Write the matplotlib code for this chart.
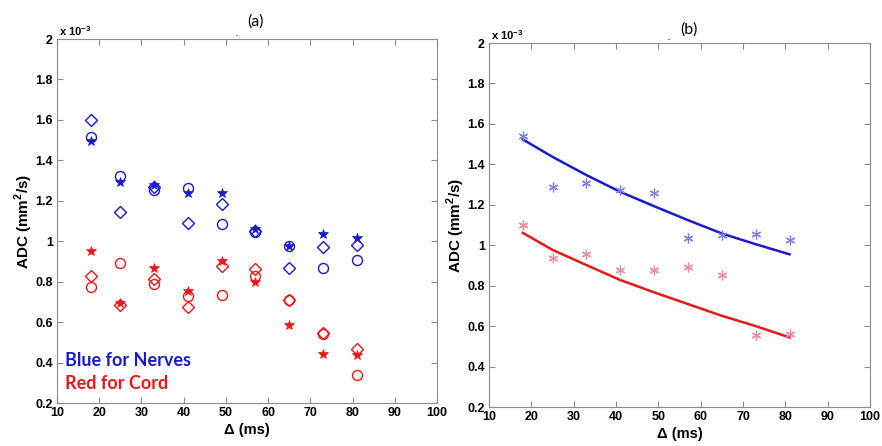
import matplotlib
matplotlib.use("Agg")
import matplotlib.pyplot as plt

delta = [18, 25, 33, 41, 49, 57, 65, 73, 81]

# Panel (a) values (x 10^-3 mm^2/s)
nerve_diamond = [1.60, 1.144, 1.267, 1.089, 1.186, 1.050, 0.870, 0.972, 0.979]
nerve_circle = [1.516, 1.323, 1.251, 1.262, 1.084, 1.045, 0.974, 0.870, 0.908]
nerve_star = [1.495, 1.295, 1.277, 1.238, 1.236, 1.061, 0.977, 1.036, 1.017]
cord_star = [0.950, 0.694, 0.868, 0.754, 0.901, 0.800, 0.587, 0.442, 0.439]
cord_diamond = [0.830, 0.684, 0.813, 0.676, 0.879, 0.863, 0.711, 0.546, 0.467]
cord_circle = [0.775, 0.892, 0.790, 0.727, 0.732, 0.826, 0.708, 0.543, 0.338]

# Panel (b) values
nerve_mean = [1.541, 1.290, 1.307, 1.271, 1.257, 1.035, 1.053, 1.056, 1.025]
cord_mean = [1.099, 0.935, 0.957, 0.876, 0.878, 0.894, 0.853, 0.557, 0.562]
nerve_fit = [1.523, 1.437, 1.347, 1.264, 1.193, 1.124, 1.058, 1.005, 0.955]
cord_fit = [1.061, 0.977, 0.902, 0.828, 0.767, 0.709, 0.651, 0.600, 0.544]

xticks = [10, 20, 30, 40, 50, 60, 70, 80, 90, 100]
xticklabels = ["10", "20", "30", "40", "50", "60", "70", "80", "90", "100"]
yticks = [0.2, 0.4, 0.6, 0.8, 1.0, 1.2, 1.4, 1.6, 1.8, 2.0]
yticklabels = ["0.2", "0.4", "0.6", "0.8", "1", "1.2", "1.4", "1.6", "1.8", "2"]

BLUE = "#1a1acc"
RED = "#e81818"
GRAY = "#8c8c8c"

plt.rcParams["font.family"] = ["Liberation Sans", "DejaVu Sans"]
plt.rcParams["mathtext.fontset"] = "custom"
plt.rcParams["mathtext.bf"] = "Liberation Sans:bold"
plt.rcParams["mathtext.rm"] = "Liberation Sans"

fig = plt.figure(figsize=(8.82, 4.46), dpi=100)
fig.patch.set_facecolor("white")

ax_a = fig.add_axes([57 / 882, 1 - 403 / 446, 380 / 882, 364 / 446])
ax_b = fig.add_axes([489 / 882, 1 - 407 / 446, 381 / 882, 364 / 446])


def style(ax):
    ax.set_xlim(10, 100)
    ax.set_ylim(0.2, 2.0)
    ax.set_xticks(xticks, labels=xticklabels, fontweight="bold", fontsize=9)
    ax.set_yticks(yticks, labels=yticklabels, fontweight="bold", fontsize=9)
    ax.tick_params(direction="in", length=4, width=0.8, color=GRAY,
                   top=True, right=True, pad=3)
    for s in ax.spines.values():
        s.set_color(GRAY)
        s.set_linewidth(0.8)
    ax.set_xlabel("\u0394 (ms)", fontsize=10.5, fontweight="bold", labelpad=3)
    ax.set_ylabel("ADC (mm$^{\\mathbf{2}}$/s)", fontsize=11, fontweight="bold",
                  labelpad=0)
    ax.text(0.005, 1.004, "x 10$^{\\mathbf{-3}}$", transform=ax.transAxes, fontsize=8,
            fontweight="bold", va="bottom", ha="left")


style(ax_a)
style(ax_b)

ax_a.plot(delta, nerve_diamond, linestyle="none", marker="D", ms=6.3, mfc="none",
          mec=BLUE, mew=1.0)
ax_a.plot(delta, nerve_circle, linestyle="none", marker="o", ms=7.2, mfc="none",
          mec=BLUE, mew=1.0)
ax_a.plot(delta, nerve_star, linestyle="none", marker="*", ms=7.5, color=BLUE, mew=0.5)
ax_a.plot(delta, cord_star, linestyle="none", marker="*", ms=7.5, color=RED, mew=0.5)
ax_a.plot(delta, cord_diamond, linestyle="none", marker="D", ms=6.3, mfc="none",
          mec=RED, mew=1.0)
ax_a.plot(delta, cord_circle, linestyle="none", marker="o", ms=7.2, mfc="none",
          mec=RED, mew=1.0)

ax_a.text(11.8, 0.385, "Blue for Nerves", color=BLUE, fontsize=13, fontweight="bold",
          family="Lato", va="baseline")
ax_a.text(11.8, 0.27, "Red for Cord", color=RED, fontsize=13, fontweight="bold",
          family="Lato", va="baseline")

ax_b.plot(delta, nerve_fit, color=BLUE, lw=1.8)
ax_b.plot(delta, cord_fit, color=RED, lw=1.8)
ax_b.plot(delta, nerve_mean, linestyle="none", marker=(6, 2, 0), ms=7,
          color="#8080e6", mew=0.9)
ax_b.plot(delta, cord_mean, linestyle="none", marker=(6, 2, 0), ms=7,
          color="#f08a96", mew=0.9)

fig.text(255 / 882, 1 - 22 / 446, "(a)", fontsize=11.5, family="Lato",
         ha="center", va="center")
fig.text(237 / 882, 1 - 36 / 446, "-", fontsize=5, ha="center", va="center")
fig.text(689 / 882, 1 - 30 / 446, "(b)", fontsize=11.5, family="Lato",
         ha="center", va="center")
fig.text(669 / 882, 1 - 40 / 446, "-", fontsize=5, ha="center", va="center")

fig.savefig("out.png", dpi=100, facecolor="white")
